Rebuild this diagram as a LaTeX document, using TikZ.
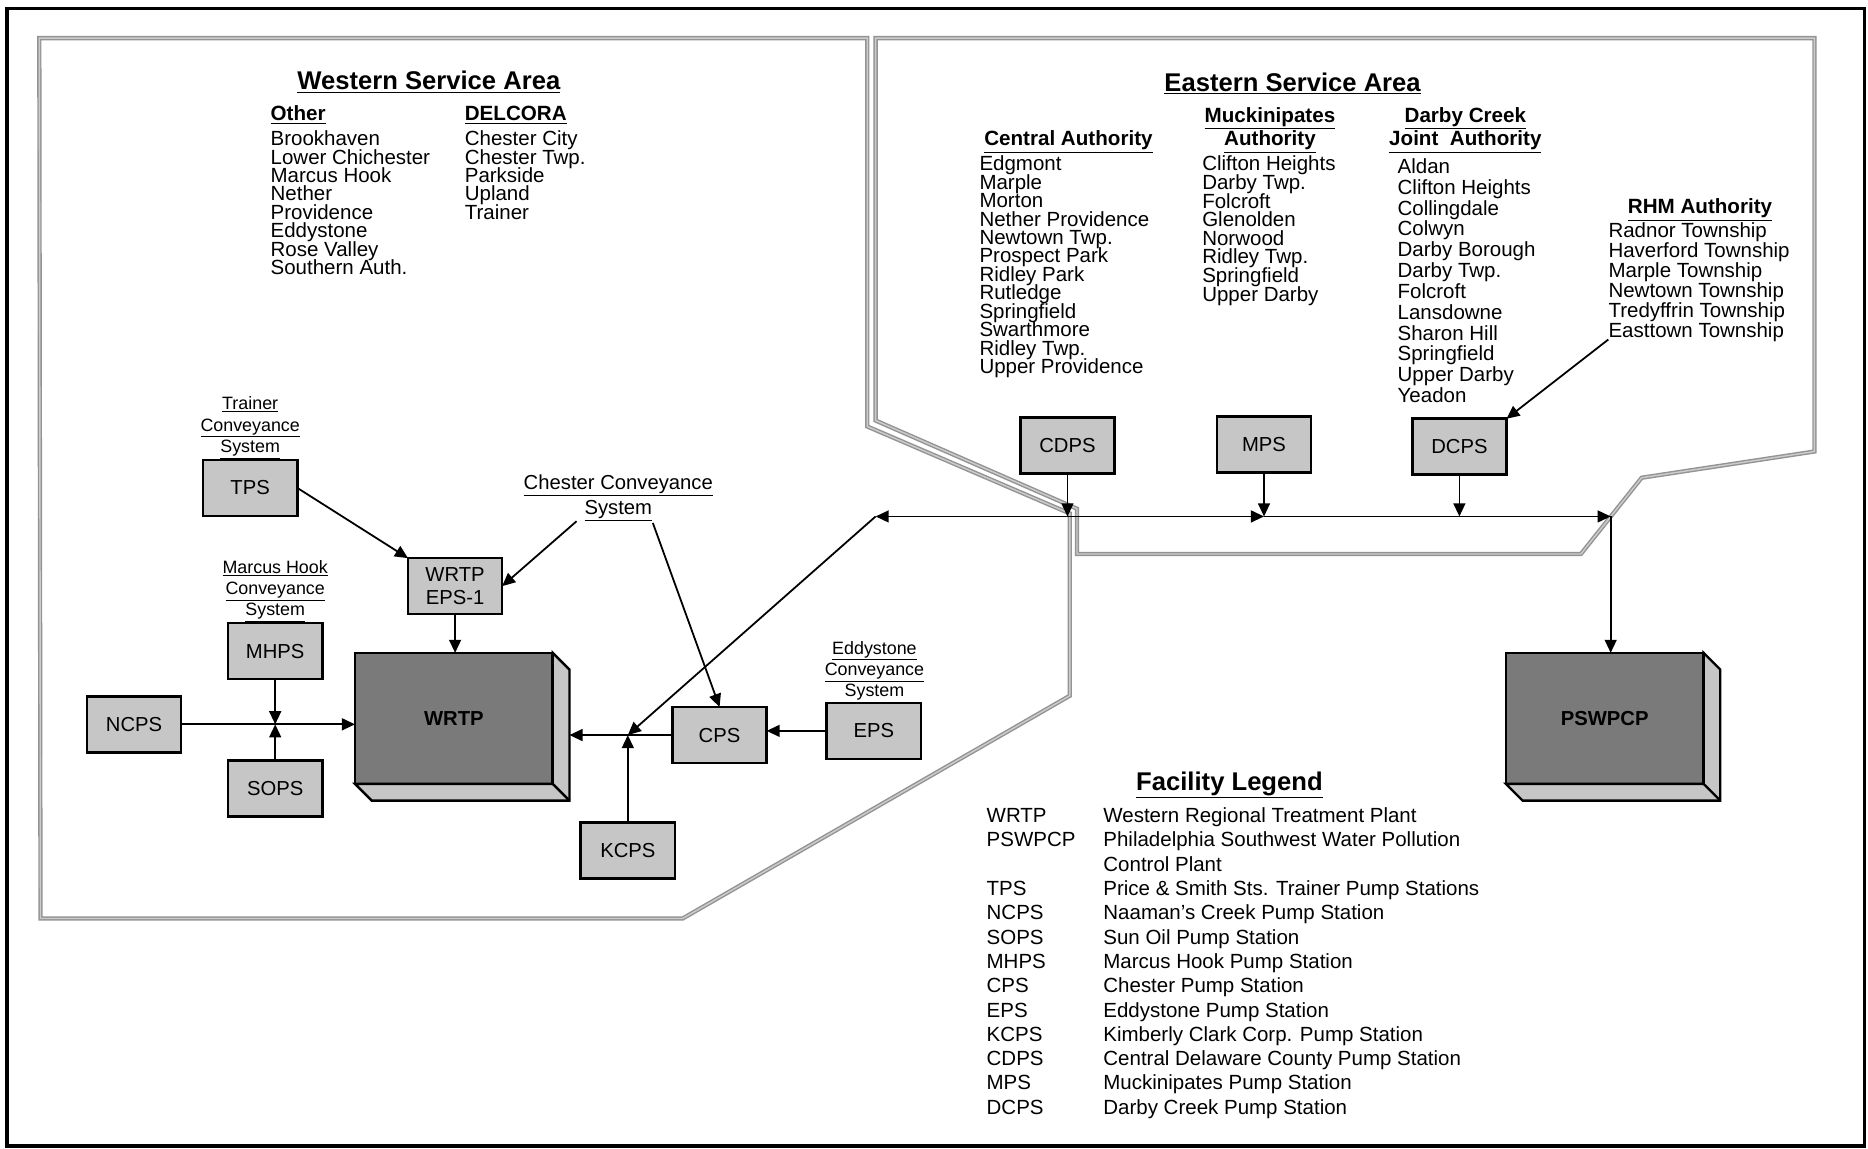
\documentclass[tikz,border=0pt]{standalone}
\usepackage{fontspec}
\setmainfont{Liberation Sans}
\usetikzlibrary{arrows.meta}

\begin{document}
\begin{tikzpicture}[x=1pt, y=-1pt,
    stn/.style={draw, line width=2.2pt, fill=gray!45, minimum width=79pt, minimum height=47pt,
      inner sep=0pt, outer sep=0pt, align=center, font=\fontsize{17}{20}\selectfont},
    plant/.style={draw, line width=2.2pt, fill=black!52, minimum width=166pt, minimum height=110pt,
      inner sep=0pt, outer sep=0pt, font=\bfseries\fontsize{17}{20}\selectfont},
    arr/.style={-{Triangle[length=11pt,width=10pt]}, line width=1.5pt},
    zone/.style={draw=gray!85, double=gray!40, double distance=1.2pt, line width=1.2pt},
    ttl/.style={anchor=base, inner sep=0pt, font=\bfseries\fontsize{21.5}{24}\selectfont},
    hdr/.style={anchor=base, inner sep=0pt, font=\bfseries\fontsize{17.3}{20}\selectfont},
    txt/.style={anchor=base west, inner sep=0pt, font=\fontsize{17.2}{15.4}\selectfont},
    small/.style={anchor=base, inner sep=0pt, font=\fontsize{15}{18}\selectfont}]
    \useasboundingbox (0,0) rectangle (1568,964);

    % Frame
    \draw[line width=2.8pt] (6,7) rectangle (1565,962);

    % Service areas
    \draw[zone] (33,32) -- (728,32) -- (728,358) -- (898,431) -- (898,584) -- (573,771) -- (34,771) -- cycle;
    \draw[zone] (735,32) -- (1523,32) -- (1523,379) -- (1378,401) -- (1327,465) -- (904,465) -- (904,427) -- (735,353) -- cycle;

    % Western Service Area
    \node[ttl] (wsa) at (360,75.5) {\underline{Western Service Area}};
    \node[hdr, anchor=base west] (oth) at (227,101.5) {\underline{Other}};
    \node[hdr, anchor=base west] (dlc) at (390,101.5) {\underline{DELCORA}};
    \foreach \t [count=\i from 0] in {Brookhaven, Lower Chichester, Marcus Hook, Nether, Providence, Eddystone, Rose Valley, Southern Auth.}
      \node[txt] (oth\i) at (227,{122.5+15.4*\i}) {\t};
    \foreach \t [count=\i from 0] in {Chester City, Chester Twp., Parkside, Upland, Trainer}
      \node[txt] (dlc\i) at (390,{122.5+15.4*\i}) {\t};

    % Eastern Service Area
    \node[ttl] (esa) at (1085,76.5) {\underline{Eastern Service Area}};
    \node[hdr, anchor=base west] (cen) at (826,122.5) {\underline{Central Authority}};
    \node[hdr] (muk) at (1066,102.5) {\underline{Muckinipates}};
    \node[hdr] (muka) at (1066,122.5) {\underline{Authority}};
    \node[hdr] (dcj) at (1230,102.5) {\underline{Darby Creek}};
    \node[hdr] (dcja) at (1230,122.5) {\underline{Joint\ \ Authority}};
    \node[hdr] (rhm) at (1427,179.5) {\underline{RHM Authority}};
    \foreach \t [count=\i from 0] in {Edgmont, Marple, Morton, Nether Providence, Newtown Twp., Prospect Park, Ridley Park, Rutledge, Springfield, Swarthmore, Ridley Twp., Upper Providence}
      \node[txt] (cen\i) at (822,{143.5+15.45*\i}) {\t};
    \foreach \t [count=\i from 0] in {Clifton Heights, Darby Twp., Folcroft, Glenolden, Norwood, Ridley Twp., Springfield, Upper Darby}
      \node[txt] (muk\i) at (1009,{143.5+15.6*\i}) {\t};
    \foreach \t [count=\i from 0] in {Aldan, Clifton Heights, Collingdale, Colwyn, Darby Borough, Darby Twp., Folcroft, Lansdowne, Sharon Hill, Springfield, Upper Darby, Yeadon}
      \node[txt] (dcj\i) at (1173,{145.5+17.5*\i}) {\t};
    \foreach \t [count=\i from 0] in {Radnor Township, Haverford Township, Marple Township, Newtown Township, Tredyffrin Township, Easttown Township}
      \node[txt] (rhm\i) at (1350,{199.5+16.8*\i}) {\t};

    % Conveyance system labels
    \foreach \t [count=\i from 0] in {Trainer, Conveyance, System}
      \node[small] (trn\i) at (210,{344+18*\i}) {\underline{\t}};
    \foreach \t [count=\i from 0] in {Marcus Hook, Conveyance, System}
      \node[small] (mhk\i) at (231,{481+18*\i}) {\underline{\t}};
    \foreach \t [count=\i from 0] in {Eddystone, Conveyance, System}
      \node[small] (edd\i) at (734,{549+18*\i}) {\underline{\t}};
    \node[anchor=base, inner sep=0pt, font=\fontsize{17}{20}\selectfont] (chs) at (519,410.5) {\underline{Chester Conveyance}};
    \node[anchor=base, inner sep=0pt, font=\fontsize{17}{20}\selectfont] (chs2) at (519,431.5) {\underline{System}};

    % Pump stations
    \node[stn] (tps) at (210,409.5) {TPS};
    \node[stn] (eps1) at (382,492) {WRTP\\EPS-1};
    \node[stn] (mhps) at (231,546.5) {MHPS};
    \node[stn] (ncps) at (112.5,608) {NCPS};
    \node[stn] (sops) at (231,662) {SOPS};
    \node[stn] (cps) at (604,617) {CPS};
    \node[stn] (eps) at (733.5,613.5) {EPS};
    \node[stn] (kcps) at (527,714) {KCPS};
    \node[stn] (cdps) at (896,374) {CDPS};
    \node[stn] (mps) at (1061,373) {MPS};
    \node[stn] (dcps) at (1225,375) {DCPS};

    % Treatment plants
    \node[plant] (wrtp) at (381,603) {WRTP};
    \node[plant] (pswpcp) at (1347,603) {PSWPCP};
    \foreach \p in {wrtp,pswpcp} {
      \draw[line width=2pt, fill=gray!45] (\p.north east) -- ([shift={(14,14)}]\p.north east)
        -- ([shift={(14,14)}]\p.south east) -- ([shift={(14,14)}]\p.south west)
        -- (\p.south west) -- (\p.south east) -- cycle;
      \draw[line width=2pt] (\p.south east) -- ([shift={(14,14)}]\p.south east);
    }

    % Junctions
    \coordinate (jw) at (mhps.south |- ncps.east);
    \coordinate (jn) at (kcps.north |- cps.west);
    \coordinate (hl) at (735,433.5);
    \coordinate (hr) at (1352,433.5);
    \coordinate (chsL) at (484,437.5);
    \coordinate (chsR) at (548,439);
    \coordinate (rhmL) at (1350,285);

    % Western flows
    \draw[arr] (tps.east) -- (eps1.north west);
    \draw[arr] (chsL) -- (eps1.east);
    \draw[arr] (chsR) -- (cps.north);
    \draw[arr] (eps1.south) -- (eps1.south |- wrtp.north);
    \draw[arr] (ncps.east) -- (ncps.east -| wrtp.west);
    \draw[arr] (mhps.south) -- (jw);
    \draw[arr] (sops.north) -- (jw);
    \draw[arr] (cps.west) -- ([xshift=14pt]cps.west -| wrtp.east);
    \draw[arr] (eps.west) -- (eps.west -| cps.east);
    \draw[arr] (kcps.north) -- (jn);
    \draw[arr] (hl) -- (jn);

    % Eastern flows
    \draw[arr] (cdps.south) -- (cdps.south |- hl);
    \draw[arr] (mps.south) -- (mps.south |- hl);
    \draw[arr] (dcps.south) -- (dcps.south |- hl);
    \draw[arr] (cdps.south |- hl) -- (hl);
    \draw[arr] (cdps.south |- hl) -- (mps.south |- hl);
    \draw[arr] (mps.south |- hl) -- (hr);
    \draw[arr] (hr) -- (hr |- pswpcp.north);
    \draw[arr] (rhmL) -- (dcps.north east);

    % Facility legend
    \node[ttl] (leg) at (1032,663.5) {\underline{Facility Legend}};
    \foreach \a/\r in {WRTP/0, PSWPCP/1, TPS/3, NCPS/4, SOPS/5, MHPS/6, CPS/7, EPS/8, KCPS/9, CDPS/10, MPS/11, DCPS/12}
      \node[txt] (ab\r) at (828,{690.5+20.4*\r}) {\a};
    \foreach \d [count=\i from 0] in {Western Regional Treatment Plant, Philadelphia Southwest Water Pollution, Control Plant,
        Price \& Smith Sts. Trainer Pump Stations, Naaman's Creek Pump Station, Sun Oil Pump Station,
        Marcus Hook Pump Station, Chester Pump Station, Eddystone Pump Station, Kimberly Clark Corp. Pump Station,
        Central Delaware County Pump Station, Muckinipates Pump Station, Darby Creek Pump Station}
      \node[txt] (de\i) at (926,{690.5+20.4*\i}) {\d};
\end{tikzpicture}
\end{document}
